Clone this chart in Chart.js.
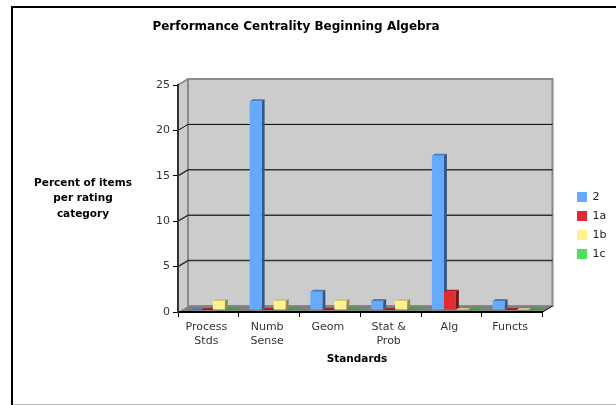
<!DOCTYPE html>
<html>
<head>
<meta charset="utf-8">
<style>
  html, body { margin: 0; padding: 0; background: #fff; }
  #wrap { width: 616px; height: 405px; }
</style>
<script src="https://cdn.jsdelivr.net/npm/chart.js@4"></script>
</head>
<body>
<div id="wrap"><canvas id="chart"></canvas></div>
<script>
const categories = [['Process', 'Stds'], ['Numb', 'Sense'], 'Geom', ['Stat &', 'Prob'], 'Alg', 'Functs']
const values2 = [0, 23, 2, 1, 17, 1]
const values1a = [0, 0, 0, 0, 2, 0]
const values1b = [1, 1, 1, 1, 0, 0]
const values1c = [0, 0, 0, 0, 0, 0]
const yTicks = [0, 5, 10, 15, 20, 25]

const chartTitle = 'Performance Centrality Beginning Algebra'
const xTitle = 'Standards'
const yTitleLines = ['Percent of items', 'per rating', 'category']

const FONT = '"DejaVu Sans", Verdana, sans-serif'
const DEPTH_X = 10
const DEPTH_Y = 6
const BAR_DX = 4.5
const BAR_DY = 2

// front, top, side colours of each series
const faces = [
  ['#66aaff', '#4a7cba', '#33598c'],
  ['#e02b33', '#a81f26', '#751519'],
  ['#fff28c', '#cfc472', '#958d50'],
  ['#4fe05a', '#3aa443', '#28752e']
]

const box3d = {
  id: 'box3d',
  afterLayout(chart) {
    // the legend and title sit off to one side in the original
    const legend = chart.legend
    legend.left = 569
    legend.right = legend.left + legend.width
    legend.top = 225.5 - legend.height / 2
    legend.bottom = legend.top + legend.height
    const title = chart.titleBlock
    title.left = 0
    title.right = 592
  },
  beforeDraw(chart) {
    const { ctx, chartArea: a, scales: { y } } = chart
    ctx.save()
    // outer frame
    ctx.strokeStyle = '#bbb'
    ctx.lineWidth = 1
    ctx.beginPath()
    ctx.moveTo(12, 404.5)
    ctx.lineTo(616, 404.5)
    ctx.stroke()
    ctx.strokeStyle = '#000'
    ctx.lineWidth = 2
    ctx.beginPath()
    ctx.moveTo(12, 405)
    ctx.lineTo(12, 7)
    ctx.lineTo(616, 7)
    ctx.stroke()

    // back wall
    ctx.fillStyle = '#cccccc'
    ctx.fillRect(a.left + DEPTH_X, a.top - DEPTH_Y, a.width, a.height)
    // left wall
    ctx.beginPath()
    ctx.moveTo(a.left, a.top)
    ctx.lineTo(a.left + DEPTH_X, a.top - DEPTH_Y)
    ctx.lineTo(a.left + DEPTH_X, a.bottom - DEPTH_Y)
    ctx.lineTo(a.left, a.bottom)
    ctx.closePath()
    ctx.fill()
    ctx.strokeStyle = '#8a8a8a'
    ctx.lineWidth = 2
    ctx.strokeRect(a.left + DEPTH_X, a.top - DEPTH_Y, a.width, a.height)
    ctx.beginPath()
    ctx.moveTo(a.left, a.top)
    ctx.lineTo(a.left + DEPTH_X, a.top - DEPTH_Y)
    ctx.stroke()

    // grid lines run along the left wall and across the back
    yTicks.slice(1, -1).forEach(v => {
      const py = y.getPixelForValue(v)
      ctx.strokeStyle = v === 20 ? '#000' : '#333'
      ctx.lineWidth = v === 20 ? 1 : 1.5
      ctx.beginPath()
      ctx.moveTo(a.left, py)
      ctx.lineTo(a.left + DEPTH_X, py - DEPTH_Y)
      ctx.lineTo(a.right + DEPTH_X, py - DEPTH_Y)
      ctx.stroke()
    })

    // floor
    ctx.fillStyle = '#808080'
    ctx.beginPath()
    ctx.moveTo(a.left, a.bottom)
    ctx.lineTo(a.left + DEPTH_X, a.bottom - DEPTH_Y)
    ctx.lineTo(a.right + DEPTH_X, a.bottom - DEPTH_Y)
    ctx.lineTo(a.right, a.bottom)
    ctx.closePath()
    ctx.fill()
    ctx.strokeStyle = '#000'
    ctx.lineWidth = 1
    ctx.beginPath()
    ctx.moveTo(a.right, a.bottom)
    ctx.lineTo(a.right + DEPTH_X, a.bottom - DEPTH_Y)
    ctx.stroke()
    ctx.restore()
  },
  beforeDatasetsDraw(chart) {
    const { ctx } = chart
    ctx.save()
    ctx.translate(BAR_DX, -BAR_DY)
    chart.data.datasets.forEach((ds, i) => {
      chart.getDatasetMeta(i).data.forEach(bar => {
        const left = bar.x - bar.width / 2
        const right = bar.x + bar.width / 2
        const top = bar.y
        const base = bar.base
        const dx = 3
        const dy = 2
        // top face
        ctx.fillStyle = faces[i][1]
        ctx.beginPath()
        ctx.moveTo(left, top)
        ctx.lineTo(left + dx, top - dy)
        ctx.lineTo(right + dx, top - dy)
        ctx.lineTo(right, top)
        ctx.closePath()
        ctx.fill()
        // side face
        if (base > top) {
          ctx.fillStyle = faces[i][2]
          ctx.beginPath()
          ctx.moveTo(right, top)
          ctx.lineTo(right + dx, top - dy)
          ctx.lineTo(right + dx, base - dy)
          ctx.lineTo(right, base)
          ctx.closePath()
          ctx.fill()
        }
      })
    })
  },
  afterDatasetsDraw(chart) {
    chart.ctx.restore()
  },
  afterDraw(chart) {
    const { ctx } = chart
    ctx.save()
    ctx.fillStyle = '#000'
    ctx.font = 'bold 10.5px ' + FONT
    ctx.textAlign = 'center'
    ctx.textBaseline = 'middle'
    ctx.fillText(xTitle, 357, 359)
    yTitleLines.forEach((line, i) => ctx.fillText(line, 83, 183 + i * 15.5))
    ctx.restore()
  }
}

new Chart(document.getElementById('chart'), {
  type: 'bar',
  data: {
    labels: categories,
    datasets: [
      { label: '2', data: values2, backgroundColor: faces[0][0] },
      { label: '1a', data: values1a, backgroundColor: faces[1][0] },
      { label: '1b', data: values1b, backgroundColor: faces[2][0] },
      { label: '1c', data: values1c, backgroundColor: faces[3][0] }
    ]
  },
  plugins: [box3d],
  options: {
    responsive: true,
    maintainAspectRatio: false,
    animation: false,
    layout: { padding: { left: 0, right: 26, top: 20, bottom: 0 } },
    datasets: { bar: { categoryPercentage: 0.79, barPercentage: 1, clip: false } },
    plugins: {
      title: {
        display: true,
        text: chartTitle,
        color: '#000',
        font: { family: FONT, size: 12, weight: 'bold' },
        padding: { top: 0, bottom: 50.6 }
      },
      legend: {
        position: 'right',
        labels: {
          boxWidth: 10,
          boxHeight: 10,
          padding: 8,
          color: '#222',
          font: { family: FONT, size: 11 }
        }
      },
      tooltip: { enabled: false }
    },
    scales: {
      x: {
        grid: { drawOnChartArea: false, color: '#000', tickLength: 5 },
        border: { color: '#000', width: 2 },
        ticks: { color: '#333', font: { family: FONT, size: 11, lineHeight: 1.27 }, maxRotation: 0, autoSkip: false, padding: 3, labelOffset: -2 },
        afterFit(scale) { scale.height = 93 }
      },
      y: {
        min: 0,
        max: 25,
        grid: { drawOnChartArea: false, color: '#000', tickLength: 5 },
        border: { color: '#333', width: 2 },
        ticks: { color: '#333', font: { family: FONT, size: 11 }, stepSize: 5, padding: 3 },
        afterFit(scale) { scale.width = 178 }
      }
    }
  }
})
</script>
</body>
</html>
